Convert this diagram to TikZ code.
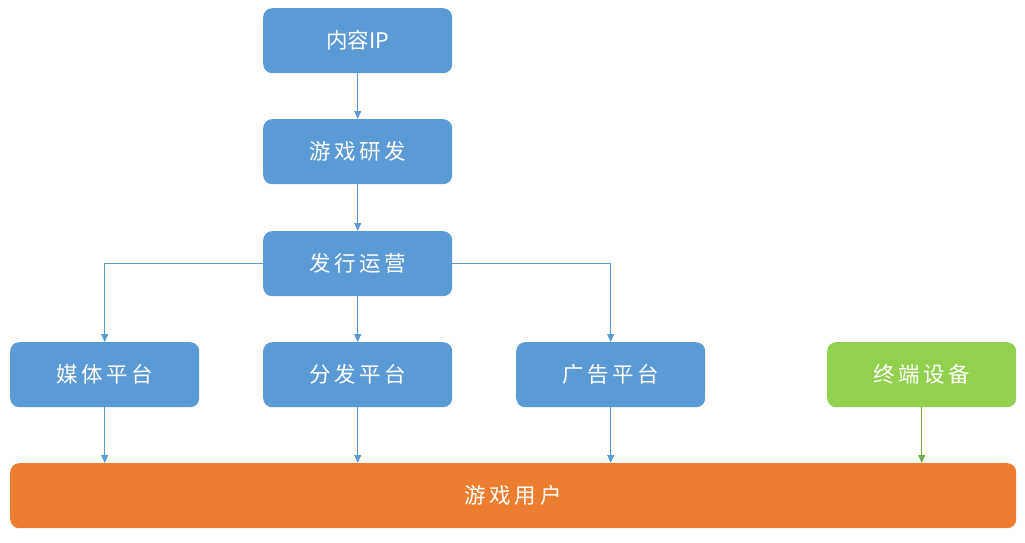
\documentclass[tikz,border=0pt]{standalone}
\usepackage{fontspec}
\newfontfamily\cjk{Noto Sans CJK SC}
\usetikzlibrary{arrows.meta}
\definecolor{bluebox}{HTML}{5B9BD5}
\definecolor{orangebox}{HTML}{ED7D31}
\definecolor{greenbox}{HTML}{92D050}
\definecolor{greenline}{HTML}{70AD47}
\begin{document}
\begin{tikzpicture}[x=1pt,y=-1pt,
  box/.style={rounded corners=9pt, minimum width=189pt, minimum height=65pt, inner sep=0pt,
    text=white, font=\cjk\fontsize{21.5}{25}\selectfont, anchor=north west},
  bluenode/.style={box, fill=bluebox},
  greennode/.style={box, fill=greenbox},
  orangenode/.style={box, fill=orangebox, minimum width=1006pt},
  conn/.style={draw=bluebox, line width=0.9pt, -{Triangle[length=8pt,width=7pt]}},
  gconn/.style={draw=greenline, line width=0.9pt, -{Triangle[length=8pt,width=7pt]}}
]
\useasboundingbox (0,0) rectangle (1025,543);
\node[bluenode] (ip) at (263,8) {内容IP};
\node[bluenode] (dev) at (263,119) {游\,戏\,研\,发};
\node[bluenode] (pub) at (263,231) {发\,行\,运\,营};
\node[bluenode] (media) at (10,342) {媒\,体\,平\,台};
\node[bluenode] (dist) at (263,342) {分\,发\,平\,台};
\node[bluenode] (ad) at (516,342) {广\,告\,平\,台};
\node[greennode] (term) at (827,342) {终\,端\,设\,备};
\node[orangenode] (user) at (10,463) {游\,戏\,用\,户};

\draw[conn] (ip.south) -- (dev.north);
\draw[conn] (dev.south) -- (pub.north);
\draw[conn] (pub.south) -- (dist.north);
\draw[conn] (pub.west) -| (media.north);
\draw[conn] (pub.east) -| (ad.north);
\draw[conn] (media.south) -- (media.south |- user.north);
\draw[conn] (dist.south) -- (dist.south |- user.north);
\draw[conn] (ad.south) -- (ad.south |- user.north);
\draw[gconn] (term.south) -- (term.south |- user.north);
\end{tikzpicture}
\end{document}
